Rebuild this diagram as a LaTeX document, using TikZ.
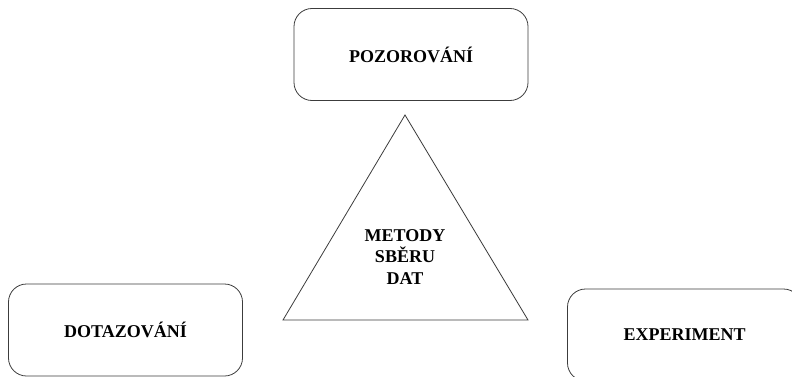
\documentclass[tikz,border=0pt]{standalone}
\usepackage{fontspec}
\setmainfont{Liberation Serif}
\usetikzlibrary{positioning}
\definecolor{linegray}{RGB}{60,60,60}

\begin{document}
\begin{tikzpicture}[x=1pt,y=1pt,
        font=\fontsize{18}{21.5}\selectfont\bfseries,
        metoda/.style={draw=linegray,line width=0.8pt,rounded corners=18pt,
                       minimum width=234pt,minimum height=92pt,
                       align=center,inner sep=0pt}]
    \useasboundingbox (0,0) rectangle (792,376);
    % Pozorovani (nahore)
    \node[metoda] (pozorovani) at (411,321.5) {POZOROVÁNÍ};
    % Dotazovani (vlevo dole)
    \node[metoda] (dotazovani) at (125.5,46) {DOTAZOVÁNÍ};
    % Experiment (vpravo dole, oriznuty)
    \node[metoda] (experiment) at (684.5,41) {EXPERIMENT};
    % Trojuhelnik
    \coordinate (vrchol) at (405,261);
    \coordinate (levy) at (283,56);
    \coordinate (pravy) at (528,56);
    \draw[linegray,line width=0.8pt] (vrchol) -- (levy) -- (pravy) -- cycle;
    \node[align=center] (metody) at (405,119) {METODY\\SBĚRU\\DAT};
\end{tikzpicture}
\end{document}
